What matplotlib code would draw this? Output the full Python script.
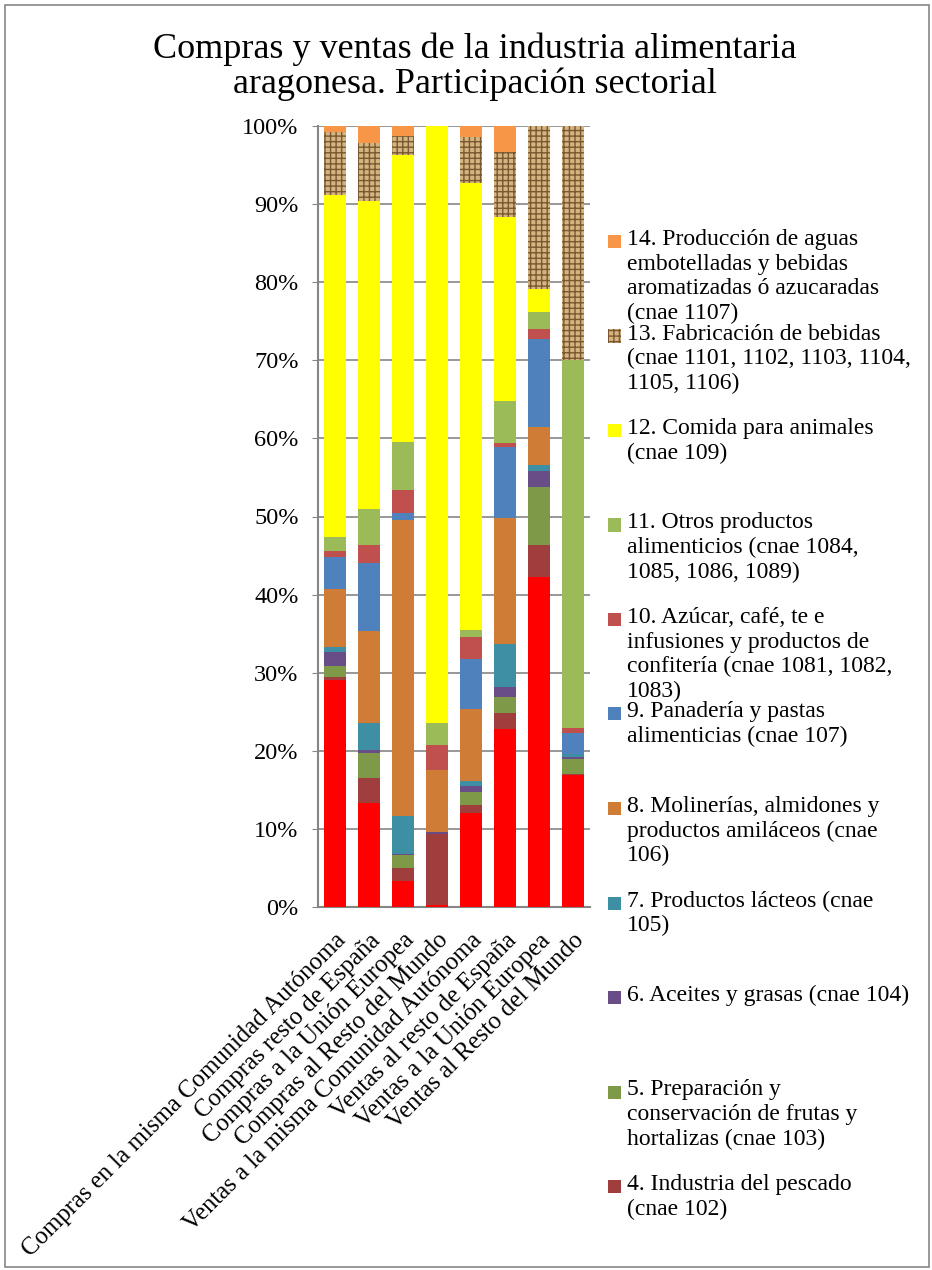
import matplotlib.pyplot as plt
from matplotlib.patches import Rectangle
import numpy as np

plt.rcParams['font.family'] = ['Liberation Serif', 'DejaVu Serif']

categories = ["Compras en la misma Comunidad Autónoma", "Compras resto de España",
              "Compras a la Unión Europea", "Compras al Resto del Mundo",
              "Ventas a la misma Comunidad Autónoma", "Ventas al resto de España",
              "Ventas a la Unión Europea", "Ventas al Resto del Mundo"]

# shares in % per bar, bottom to top
s01 = [29.1, 13.3, 3.3, 0.3, 12.0, 22.8, 42.2, 16.9]   # resto de sectores (rojo)
s04 = [0.3, 3.2, 1.7, 9.0, 1.1, 2.1, 4.1, 0.1]
s05 = [1.4, 3.2, 1.7, 0.1, 1.6, 2.0, 7.5, 1.9]
s06 = [1.9, 0.4, 0.1, 0.2, 0.8, 1.3, 2.0, 0.3]
s07 = [0.6, 3.4, 4.9, 0.0, 0.6, 5.5, 0.8, 0.4]
s08 = [7.4, 11.8, 37.9, 7.9, 9.3, 16.1, 4.9, 0.0]
s09 = [4.1, 8.7, 0.9, 0.1, 6.4, 9.1, 11.2, 2.7]
s10 = [0.8, 2.3, 2.9, 3.1, 2.8, 0.5, 1.3, 0.6]
s11 = [1.8, 4.7, 6.2, 2.8, 0.9, 5.4, 2.2, 47.1]
s12 = [43.8, 39.4, 36.7, 76.7, 57.2, 23.6, 2.9, 0.1]
s13 = [8.0, 7.4, 2.4, 0.0, 5.9, 8.3, 20.9, 30.1]
s14 = [0.8, 2.2, 1.4, 0.0, 1.4, 3.3, 0.0, 0.0]

series = [s01, s04, s05, s06, s07, s08, s09, s10, s11, s12, s13, s14]
colors = ['#FF0000', '#A03E3E', '#7E9A48', '#684D86', '#3E8FA4', '#CF7C37',
          '#4F81BD', '#C0504D', '#9BBB59', '#FFFF00', '#D4B582', '#F79646']

legend_labels = [
    "14. Producción de aguas\nembotelladas y bebidas\naromatizadas ó azucaradas\n(cnae 1107)",
    "13. Fabricación de bebidas\n(cnae 1101, 1102, 1103, 1104,\n1105, 1106)",
    "12. Comida para animales\n(cnae 109)",
    "11. Otros productos\nalimenticios (cnae 1084,\n1085, 1086, 1089)",
    "10. Azúcar, café, te e\ninfusiones y productos de\nconfitería (cnae 1081, 1082,\n1083)",
    "9. Panadería y pastas\nalimenticias (cnae 107)",
    "8. Molinerías, almidones y\nproductos amiláceos (cnae\n106)",
    "7. Productos lácteos (cnae\n105)",
    "6. Aceites y grasas (cnae 104)",
    "5. Preparación y\nconservación de frutas y\nhortalizas (cnae 103)",
    "4. Industria del pescado\n(cnae 102)",
]

W, H = 932, 1270
fig = plt.figure(figsize=(W / 100, H / 100), dpi=100)
ax = fig.add_axes([318 / W, 1 - 907 / H, 272 / W, 781 / H])

x = np.arange(len(categories))
bottom = np.zeros(len(categories))
for i, (vals, col) in enumerate(zip(series, colors)):
    vals = np.array(vals)
    if i == 10:
        ax.bar(x, vals, 0.65, bottom=bottom, color=col, edgecolor='#7A5830',
               hatch='+++', linewidth=0, zorder=3)
    else:
        ax.bar(x, vals, 0.65, bottom=bottom, color=col, linewidth=0, zorder=3)
    bottom += vals

ax.set_xlim(-0.5, len(categories) - 0.5)
ax.set_ylim(0, 100)
ax.set_yticks(np.arange(0, 101, 10))
ax.set_yticklabels([f"{v}%" for v in range(0, 101, 10)], fontsize=17.5)
ax.yaxis.grid(True, color='#868686', linewidth=1.2, zorder=0)
ax.set_axisbelow(True)
ax.tick_params(axis='y', length=4, color='#868686', pad=10)
ax.tick_params(axis='x', length=0, pad=16)
ax.set_xticks(x)
ax.set_xticklabels(categories, rotation=45, ha='right', va='top',
                   rotation_mode='anchor', fontsize=17.8)
for side in ['top', 'right']:
    ax.spines[side].set_visible(False)
for side in ['left', 'bottom']:
    ax.spines[side].set_color('#868686')
    ax.spines[side].set_linewidth(1.5)

fig.text(475 / W, 1 - 33 / H, "Compras y ventas de la industria alimentaria\naragonesa. Participación sectorial",
         ha='center', va='top', fontsize=26, linespacing=1.05)

# legend, one slot per series (top = 14)
leg_colors = colors[::-1][:11]
for k, (lab, col) in enumerate(zip(legend_labels, leg_colors)):
    ytop = 235 + k * 94.5
    if k == 1:
        r = Rectangle((608 / W, 1 - (ytop + 13) / H), 13 / W, 13 / H, transform=fig.transFigure,
                      facecolor=col, edgecolor='#7A5830', hatch='+++', linewidth=0)
    else:
        r = Rectangle((608 / W, 1 - (ytop + 13) / H), 13 / W, 13 / H, transform=fig.transFigure,
                      facecolor=col, linewidth=0)
    fig.patches.append(r)
    fig.text(627 / W, 1 - (ytop - 6) / H, lab, ha='left', va='top', fontsize=17, linespacing=1.22)

fig.patches.append(Rectangle((5 / W, 3 / H), 924 / W, 1262 / H, transform=fig.transFigure,
                             fill=False, edgecolor='#868686', linewidth=1.2))

fig.savefig('out.png', dpi=100)
